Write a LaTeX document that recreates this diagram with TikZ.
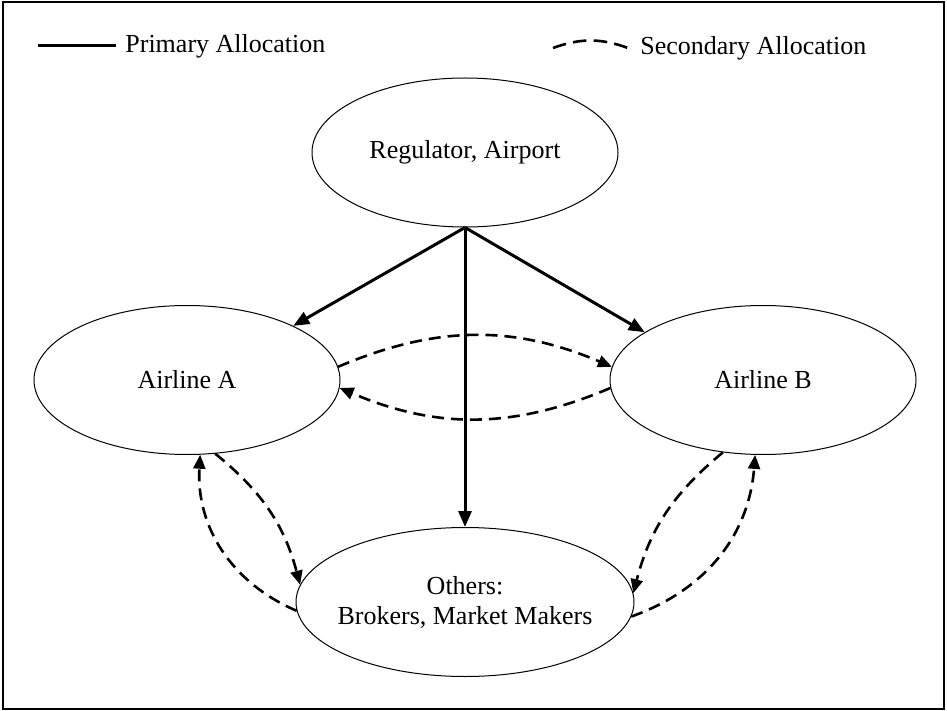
\documentclass[tikz,border=0pt]{standalone}
\usepackage{fontspec}
\setmainfont{Liberation Serif}
\usepackage{tikz}
\usetikzlibrary{positioning}
\usetikzlibrary{shapes,arrows}
\usetikzlibrary{arrows.meta, positioning}

\tikzset{
	actor/.style={draw, ellipse, line width=0.5pt, inner sep=0pt, minimum width=153pt, minimum height=74.5pt, align=center, font=\fontsize{13pt}{15pt}\selectfont},
	label_txt/.style={inner sep=0pt, font=\fontsize{13pt}{15pt}\selectfont},
	primary/.style={line width=1.5pt, -{Triangle[length=8pt, width=6.5pt]}},
	secondary/.style={line width=1.3pt, dash pattern=on 6pt off 3.5pt, -{Triangle[length=7pt, width=6pt]}},
	frame/.style={line width=1.4pt}
}

\begin{document}
\begin{tikzpicture}[x=0.5pt, y=0.5pt]

	\useasboundingbox (0,0) rectangle (947,-711);
	\path[draw, frame] (3,-2) rectangle (944,-709);

	\coordinate (prim_a) at (38,-46);
	\coordinate (prim_b) at (116,-46);
	\path[draw, primary, -] (prim_a) -- (prim_b);
	\node (prim_txt) [label_txt, right=4.5pt of prim_b] {Primary Allocation};

	\coordinate (sec_a) at (553,-48);
	\coordinate (sec_b) at (628,-48);
	\path[draw, secondary, -, dash pattern=on 6.8pt off 3.6pt] (sec_a) to[bend left=20] (sec_b);
	\node (sec_txt) [label_txt, right=6pt of sec_b] {Secondary Allocation};

	\node (reg) [actor] at (465,-152.5) {Regulator, Airport};
	\node (air_a) [actor, on grid, below left=113.75pt and 139pt of reg] {Airline A};
	\node (air_b) [actor, on grid, below right=113.75pt and 149pt of reg] {Airline B};
	\node (others) [actor, minimum width=169pt, inner xsep=-5pt, on grid, below=224.75pt of reg] {Others:\\Brokers, Market Makers};

	\path[draw, primary] (reg.south) -- (air_a.27);
	\path[draw, primary] (reg.south) -- (others.north);
	\path[draw, primary] (reg.south) -- (air_b.158);

	\path[draw, secondary] (air_a.5) to[bend left=23] (air_b.175);
	\path[draw, secondary] (air_b.183) to[bend left=23] (air_a.-3);
	\path[draw, secondary] (others.183) to[bend left=35] (air_a.-80);
	\path[draw, secondary] (air_a.-69) to[bend left=18] (others.174);
	\path[draw, secondary] (air_b.-119) to[bend right=18] (others.3);
	\path[draw, secondary] (others.-5) to[bend right=33] (air_b.-96);

\end{tikzpicture}
\end{document}
